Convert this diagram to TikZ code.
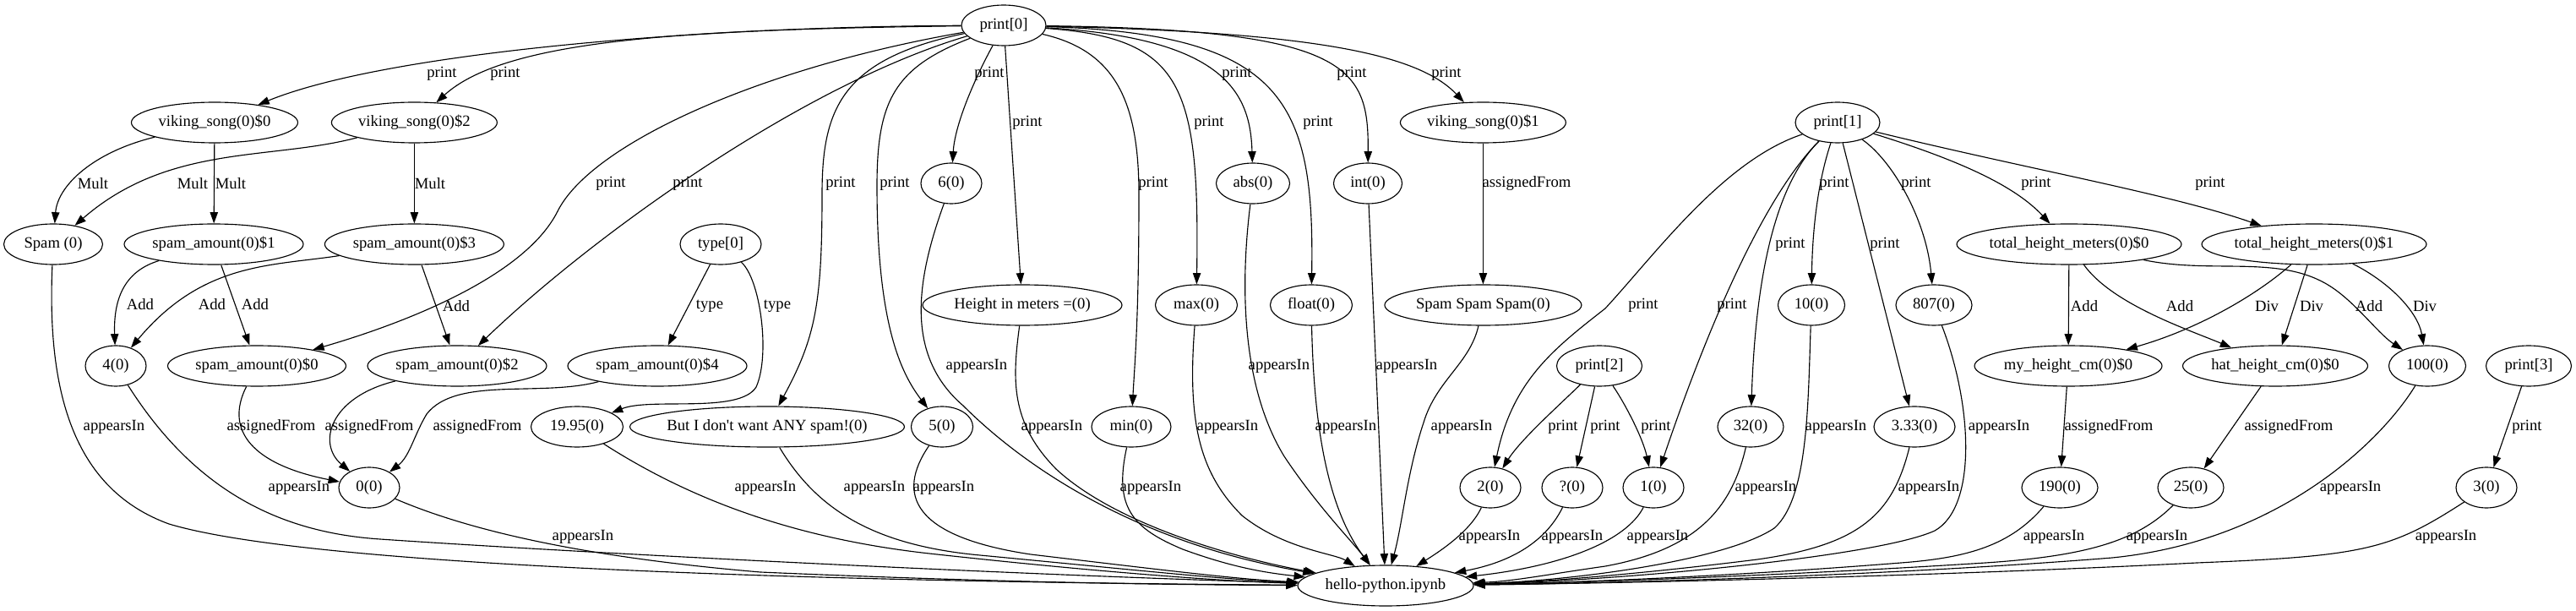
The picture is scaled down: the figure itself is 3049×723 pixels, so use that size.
\documentclass[tikz,border=0pt]{standalone}
\usepackage{fontspec}
\setmainfont{Liberation Serif}
\usetikzlibrary{shapes.geometric,arrows.meta}
\newcommand{\sq}{{\XeTeXglyph\XeTeXcharglyph"0027\relax}}
\begin{document}
\begin{tikzpicture}[x=0.75pt,y=-0.75pt,
  font=\fontsize{14pt}{16pt}\selectfont,
  nd/.style={ellipse,draw,line width=0.85pt,inner sep=0pt,minimum height=36pt,minimum width=#1*0.75pt},
  edg/.style={line width=0.85pt,-{Triangle[length=10pt,width=7pt]}},
  lb/.style={inner sep=0pt}]
\path[use as bounding box] (0,0) rectangle (3049,723);
% nodes
\node[nd=100,label=center:{print[0]}] (print0) at (1188,30) {};
\node[nd=197,label=center:{viking\_song(0)\$0}] (vik0) at (254,145) {};
\node[nd=196,label=center:{viking\_song(0)\$2}] (vik2) at (490.4,145) {};
\node[nd=196,label=center:{viking\_song(0)\$1}] (vik1) at (1755.4,145) {};
\node[nd=100,label=center:{print[1]}] (print1) at (2175,145) {};
\node[nd=72,label=center:{6(0)}] (n6) at (1126,217) {};
\node[nd=87,label=center:{abs(0)}] (abs) at (1483,217) {};
\node[nd=81,label=center:{int(0)}] (int) at (1619,217) {};
\node[nd=117,label=center:{Spam (0)}] (spam) at (63,289) {};
\node[nd=212,label=center:{spam\_amount(0)\$1}] (sa1) at (253,289) {};
\node[nd=212,label=center:{spam\_amount(0)\$3}] (sa3) at (490.4,289) {};
\node[nd=96,label=center:{type[0]}] (type0) at (853,289) {};
\node[nd=266,label=center:{total\_height\_meters(0)\$0}] (tot0) at (2449,289) {};
\node[nd=266,label=center:{total\_height\_meters(0)\$1}] (tot1) at (2739,289) {};
\node[nd=236,label=center:{Height in meters =(0)}] (height) at (1210,361) {};
\node[nd=97,label=center:{max(0)}] (max) at (1416,361) {};
\node[nd=97,label=center:{float(0)}] (float) at (1552,361) {};
\node[nd=233,label=center:{Spam Spam Spam(0)}] (sss) at (1755.4,361) {};
\node[nd=79,label=center:{10(0)}] (n10) at (2144,361) {};
\node[nd=90,label=center:{807(0)}] (n807) at (2289,361) {};
\node[nd=72,label=center:{4(0)}] (n4) at (137,433) {};
\node[nd=211,label=center:{spam\_amount(0)\$0}] (sa0) at (304,433) {};
\node[nd=212,label=center:{spam\_amount(0)\$2}] (sa2) at (541,433) {};
\node[nd=212,label=center:{spam\_amount(0)\$4}] (sa4) at (778,433) {};
\node[nd=101,label=center:{print[2]}] (print2) at (1893,433) {};
\node[nd=222,label=center:{my\_height\_cm(0)\$0}] (myh) at (2448,433) {};
\node[nd=219,label=center:{hat\_height\_cm(0)\$0}] (hat) at (2693,433) {};
\node[nd=91,label=center:{100(0)}] (n100) at (2873,433) {};
\node[nd=101,label=center:{print[3]}] (print3) at (2993,433) {};
\node[nd=109,label=center:{19.95(0)}] (n1995) at (683,505) {};
\node[nd=325,label=center:{But I don\sq t want ANY spam!(0)}] (butI) at (908,505) {};
\node[nd=73,label=center:{5(0)}] (n5) at (1115,505) {};
\node[nd=94,label=center:{min(0)}] (min) at (1339,505) {};
\node[nd=78,label=center:{32(0)}] (n32) at (2072,505) {};
\node[nd=96,label=center:{3.33(0)}] (n333) at (2266,505) {};
\node[nd=72,label=center:{0(0)}] (n00) at (437,577) {};
\node[nd=72,label=center:{2(0)}] (n2) at (1764,577) {};
\node[nd=72,label=center:{?(0)}] (nq) at (1861,577) {};
\node[nd=72,label=center:{1(0)}] (n1) at (1957,577) {};
\node[nd=90,label=center:{190(0)}] (n190) at (2438,577) {};
\node[nd=78,label=center:{25(0)}] (n25) at (2593,577) {};
\node[nd=72,label=center:{3(0)}] (n3) at (2943,577) {};
\node[nd=208,label=center:{hello-python.ipynb}] (hello) at (1640,693) {};
% print[0]
\draw[edg] (print0) .. controls (800,32) and (450,65) .. (vik0) node[lb] at (523,87) {print};
\draw[edg] (print0) .. controls (820,35) and (600,45) .. (vik2) node[lb] at (598,87) {print};
\draw[edg] (print0) .. controls (900,80) and (700,170) .. (660,250) .. controls (620,330) and (470,385) .. (sa0) node[lb] at (723,217) {print};
\draw[edg] (print0) .. controls (950,100) and (700,280) .. (sa2) node[lb] at (814,217) {print};
\draw[edg] (print0) .. controls (995,70) and (973,130) .. (973,230) .. controls (973,360) and (965,400) .. (butI) node[lb] at (995,217) {print};
\draw[edg] (print0) .. controls (1058,80) and (1038,120) .. (1038,220) .. controls (1038,380) and (1065,440) .. (n5) node[lb] at (1059,217) {print};
\draw[edg] (print0) .. controls (1150,100) and (1130,150) .. (n6) node[lb] at (1171,87) {print};
\draw[edg] (print0) -- (height) node[lb] at (1216,145) {print};
\draw[edg] (print0) .. controls (1320,60) and (1348,120) .. (1348,230) .. controls (1348,380) and (1343,430) .. (min) node[lb] at (1365,217) {print};
\draw[edg] (print0) .. controls (1400,45) and (1420,100) .. (max) node[lb] at (1431,145) {print};
\draw[edg] (print0) .. controls (1450,45) and (1480,110) .. (abs) node[lb] at (1464,87) {print};
\draw[edg] (print0) .. controls (1520,40) and (1556,120) .. (float) node[lb] at (1560,145) {print};
\draw[edg] (print0) .. controls (1600,35) and (1620,80) .. (int) node[lb] at (1600,87) {print};
\draw[edg] (print0) .. controls (1560,38) and (1680,65) .. (vik1) node[lb] at (1712,87) {print};
% vikings
\draw[edg] (vik0) .. controls (110,180) and (68,220) .. (spam) node[lb] at (110,217) {Mult};
\draw[edg] (vik0) -- (sa1) node[lb] at (273,217) {Mult};
\draw[edg] (vik2) .. controls (320,190) and (200,170) .. (spam) node[lb] at (228,217) {Mult};
\draw[edg] (vik2) -- (sa3) node[lb] at (509,217) {Mult};
\draw[edg] (vik1) -- (sss) node[lb] at (1807,217) {assignedFrom};
% spam amounts
\draw[edg] (sa1) .. controls (150,320) and (134,350) .. (n4) node[lb] at (166,360) {Add};
\draw[edg] (sa1) -- (sa0) node[lb] at (302,360) {Add};
\draw[edg] (sa3) .. controls (320,315) and (240,310) .. (n4) node[lb] at (251,360) {Add};
\draw[edg] (sa3) -- (sa2) node[lb] at (540,362) {Add};
\draw[edg] (type0) -- (sa4) node[lb] at (840,362) {type};
\draw[edg] (type0) .. controls (900,330) and (912,420) .. (895,458) .. controls (875,490) and (770,470) .. (n1995) node[lb] at (920,362) {type};
\draw[edg] (sa0) .. controls (265,510) and (300,550) .. (n00) node[lb] at (321,505) {assignedFrom};
\draw[edg] (sa2) .. controls (390,470) and (375,525) .. (n00) node[lb] at (437,505) {assignedFrom};
\draw[edg] (sa4) .. controls (640,470) and (540,445) .. (505,490) .. controls (490,515) and (485,540) .. (n00) node[lb] at (565,505) {assignedFrom};
% print[1]
\draw[edg] (print1) .. controls (2040,190) and (1960,300) .. (1900,365) .. controls (1840,412) and (1790,450) .. (n2) node[lb] at (1945,361) {print};
\draw[edg] (print1) .. controls (2080,240) and (2010,420) .. (n1) node[lb] at (2050,361) {print};
\draw[edg] (print1) .. controls (2100,220) and (2078,330) .. (n32) node[lb] at (2119,289) {print};
\draw[edg] (print1) .. controls (2150,220) and (2145,280) .. (n10) node[lb] at (2171,217) {print};
\draw[edg] (print1) -- (n333) node[lb] at (2231,289) {print};
\draw[edg] (print1) .. controls (2240,190) and (2280,260) .. (n807) node[lb] at (2268,217) {print};
\draw[edg] (print1) .. controls (2320,190) and (2385,220) .. (tot0) node[lb] at (2410,217) {print};
\draw[edg] (print1) .. controls (2400,200) and (2570,230) .. (tot1) node[lb] at (2616,217) {print};
% totals
\draw[edg] (tot0) -- (myh) node[lb] at (2467,362) {Add};
\draw[edg] (tot0) .. controls (2500,360) and (2590,390) .. (hat) node[lb] at (2580,362) {Add};
\draw[edg] (tot0) .. controls (2620,325) and (2700,300) .. (2760,340) .. controls (2790,360) and (2815,395) .. (n100) node[lb] at (2804,362) {Add};
\draw[edg] (tot1) .. controls (2670,350) and (2600,390) .. (myh) node[lb] at (2683,362) {Div};
\draw[edg] (tot1) -- (hat) node[lb] at (2736,362) {Div};
\draw[edg] (tot1) .. controls (2830,335) and (2862,370) .. (n100) node[lb] at (2870,362) {Div};
\draw[edg] (myh) -- (n190) node[lb] at (2496,505) {assignedFrom};
\draw[edg] (hat) -- (n25) node[lb] at (2709,505) {assignedFrom};
\draw[edg] (print3) -- (n3) node[lb] at (2991,505) {print};
% print[2]
\draw[edg] (print2) .. controls (1845,480) and (1800,520) .. (n2) node[lb] at (1850,505) {print};
\draw[edg] (print2) -- (nq) node[lb] at (1900,505) {print};
\draw[edg] (print2) .. controls (1925,480) and (1945,520) .. (n1) node[lb] at (1960,505) {print};
% appearsIn
\draw[edg] (spam) .. controls (55,470) and (90,580) .. (200,620) .. controls (400,680) and (1200,690) .. (hello) node[lb] at (135,505) {appearsIn};
\draw[edg] (n4) .. controls (230,580) and (330,630) .. (450,638) .. controls (700,655) and (1200,680) .. (hello) node[lb] at (354,577) {appearsIn};
\draw[edg] (n00) .. controls (560,630) and (700,660) .. (900,677) .. controls (1200,690) and (1400,692) .. (hello) node[lb] at (690,635) {appearsIn};
\draw[edg] (n1995) .. controls (800,580) and (920,635) .. (1100,655) .. controls (1300,677) and (1450,688) .. (hello) node[lb] at (906,577) {appearsIn};
\draw[edg] (butI) .. controls (965,600) and (1030,645) .. (1160,657) .. controls (1350,675) and (1450,686) .. (hello) node[lb] at (1035,577) {appearsIn};
\draw[edg] (n5) .. controls (1060,585) and (1080,635) .. (1220,656) .. controls (1380,675) and (1470,686) .. (hello) node[lb] at (1117,577) {appearsIn};
\draw[edg] (n6) .. controls (1085,330) and (1070,420) .. (1140,480) .. controls (1200,540) and (1330,640) .. (hello) node[lb] at (1156,433) {appearsIn};
\draw[edg] (height) .. controls (1198,450) and (1196,500) .. (1250,555) .. controls (1320,620) and (1460,660) .. (hello) node[lb] at (1245,505) {appearsIn};
\draw[edg] (min) .. controls (1318,600) and (1340,625) .. (1400,650) .. controls (1460,672) and (1500,678) .. (hello) node[lb] at (1362,577) {appearsIn};
\draw[edg] (max) .. controls (1405,500) and (1420,560) .. (1470,610) .. controls (1520,650) and (1580,655) .. (hello) node[lb] at (1453,505) {appearsIn};
\draw[edg] (abs) .. controls (1470,320) and (1465,450) .. (1520,540) .. controls (1560,600) and (1600,640) .. (hello) node[lb] at (1514,433) {appearsIn};
\draw[edg] (float) .. controls (1555,500) and (1570,600) .. (hello) node[lb] at (1593,505) {appearsIn};
\draw[edg] (int) -- (hello) node[lb] at (1665,433) {appearsIn};
\draw[edg] (sss) .. controls (1740,430) and (1700,450) .. (1685,500) .. controls (1665,560) and (1660,620) .. (hello) node[lb] at (1730,505) {appearsIn};
\draw[edg] (n2) .. controls (1740,630) and (1700,655) .. (hello) node[lb] at (1763,635) {appearsIn};
\draw[edg] (nq) .. controls (1830,640) and (1790,665) .. (hello) node[lb] at (1861,635) {appearsIn};
\draw[edg] (n1) .. controls (1925,640) and (1850,670) .. (hello) node[lb] at (1962,635) {appearsIn};
\draw[edg] (n32) .. controls (2050,600) and (2010,650) .. (1900,670) .. controls (1830,680) and (1790,688) .. (hello) node[lb] at (2090,577) {appearsIn};
\draw[edg] (n10) .. controls (2140,480) and (2140,590) .. (2100,625) .. controls (2040,665) and (1850,688) .. (hello) node[lb] at (2173,505) {appearsIn};
\draw[edg] (n333) .. controls (2240,610) and (2200,645) .. (2080,662) .. controls (1920,682) and (1800,690) .. (hello) node[lb] at (2283,577) {appearsIn};
\draw[edg] (n807) .. controls (2335,480) and (2340,600) .. (2290,628) .. controls (2220,660) and (1900,688) .. (hello) node[lb] at (2366,505) {appearsIn};
\draw[edg] (n190) .. controls (2380,645) and (2330,660) .. (2250,666) .. controls (2050,682) and (1850,690) .. (hello) node[lb] at (2431,635) {appearsIn};
\draw[edg] (n25) .. controls (2530,640) and (2470,658) .. (2350,666) .. controls (2100,682) and (1850,690) .. (hello) node[lb] at (2553,635) {appearsIn};
\draw[edg] (n100) .. controls (2820,520) and (2700,640) .. (2500,660) .. controls (2200,684) and (1850,691) .. (hello) node[lb] at (2782,577) {appearsIn};
\draw[edg] (n3) .. controls (2830,650) and (2800,658) .. (2600,666) .. controls (2250,684) and (1850,691) .. (hello) node[lb] at (2895,635) {appearsIn};
\end{tikzpicture}
\end{document}
